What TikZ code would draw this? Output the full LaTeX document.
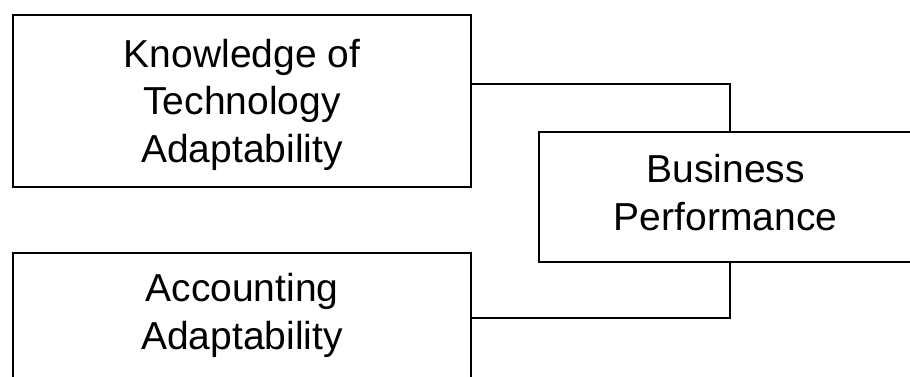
\documentclass[tikz,border=0pt]{standalone}
\usepackage{fontspec}
\setmainfont{Liberation Sans}
\begin{document}
\begin{tikzpicture}[x=1pt,y=1pt,
  box/.style={draw=black, line width=2pt, fill=white, inner sep=0pt,
    align=center, font=\fontsize{39}{47.5}\selectfont},
  link/.style={draw=black, line width=2pt}]
  \useasboundingbox (0,0) rectangle (910,376);
  % boxes
  \node[box, minimum width=458pt, minimum height=172pt, text depth=0pt] (know) at (242,275.2)
    {Knowledge of\\Technology\\Adaptability};
  \node[box, minimum width=373pt, minimum height=130pt, text depth=8pt] (perf) at (725.6,179.5)
    {Business\\Performance};
  \node[box, minimum width=458pt, minimum height=125pt] (acct) at (242,60.6)
    {Accounting\\Adaptability};
  % elbow connectors
  \coordinate (j1) at (729.5,291.7);
  \coordinate (j2) at (729.5,58.3);
  \draw[link] (know.east |- j1) -- (j1) -- (j1 |- perf.north);
  \draw[link] (acct.east |- j2) -- (j2) -- (j2 |- perf.south);
\end{tikzpicture}
\end{document}
